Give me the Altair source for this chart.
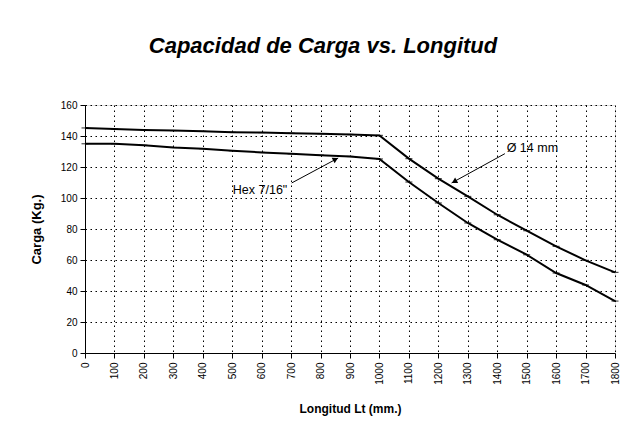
import altair as alt
import pandas as pd

longitud = [0, 100, 200, 300, 400, 500, 600, 700, 800, 900, 1000,
            1100, 1200, 1300, 1400, 1500, 1600, 1700, 1800]
carga_14mm = [145.2, 144.5, 143.8, 143.5, 143.0, 142.4, 142.2, 141.8, 141.5, 141.0, 140.4,
              125.4, 112.5, 101.0, 89.2, 78.9, 68.8, 59.8, 52.0]
carga_hex = [135.0, 135.0, 134.0, 132.6, 131.8, 130.5, 129.4, 128.5, 127.6, 126.8, 125.2,
             110.3, 96.8, 83.9, 73.1, 63.4, 51.6, 43.9, 33.5]
carga_ticks = [0, 20, 40, 60, 80, 100, 120, 140, 160]
series_names = ["Ø 14 mm", "Hex 7/16\""]

# annotations: label position, leader line start, arrowhead position/angle
ann_text = ["Ø 14 mm", "Hex 7/16\""]
ann_tx = [1432, 502]
ann_ty = [132.3, 104.9]
ann_x1 = [1426, 702]
ann_y1 = [128.6, 109.7]
ann_x2 = [1245, 860]
ann_y2 = [109.7, 125.8]
head_x = [1254, 851]
head_y = [110.6, 125.0]
head_angle = [241, 62]

rows = []
for name, vals in zip(series_names, [carga_14mm, carga_hex]):
    for x, y in zip(longitud, vals):
        rows.append({"serie": name, "x": x, "y": y})
df = pd.DataFrame(rows)
ann = pd.DataFrame({"text": ann_text, "tx": ann_tx, "ty": ann_ty,
                    "x1": ann_x1, "y1": ann_y1, "x2": ann_x2, "y2": ann_y2,
                    "hx": head_x, "hy": head_y, "angle": head_angle})

xscale = alt.Scale(domain=[0, 1800], nice=False, zero=False)
yscale = alt.Scale(domain=[0, 160], nice=False)

xaxis = alt.Axis(title="Longitud Lt (mm.)", values=longitud, labelAngle=270, format="d",
                 labelOverlap=False, labelFlush=False, titleFontSize=12,
                 grid=True, gridDash=[1.5, 3.5], gridColor="#000000", gridOpacity=1,
                 domainColor="#000000", tickColor="#000000", tickSize=5,
                 labelPadding=4, titlePadding=19)
yaxis = alt.Axis(title="Carga (Kg.)", values=carga_ticks, format="d",
                 labelOverlap=False, labelFlush=False, titleFontSize=13,
                 grid=True, gridDash=[1.5, 3.5], gridColor="#000000", gridOpacity=1,
                 domainColor="#000000", tickColor="#000000", tickSize=5,
                 labelPadding=3, titlePadding=17)

base = alt.Chart(df)
lines = base.mark_line(color="black", strokeWidth=2).encode(
    x=alt.X("x:Q", scale=xscale, axis=xaxis),
    y=alt.Y("y:Q", scale=yscale, axis=yaxis),
    detail="serie:N",
)
markers = base.mark_tick(color="black", orient="horizontal", size=7, thickness=1.2).encode(
    x=alt.X("x:Q", scale=xscale, axis=xaxis),
    y=alt.Y("y:Q", scale=yscale, axis=yaxis),
)

abase = alt.Chart(ann)
leaders = abase.mark_rule(color="black", strokeWidth=1).encode(
    x=alt.X("x1:Q", scale=xscale, axis=xaxis), y=alt.Y("y1:Q", scale=yscale, axis=yaxis),
    x2="x2:Q", y2="y2:Q")
heads = abase.mark_point(shape="triangle-up", filled=True, color="black",
                         size=40, opacity=1).encode(
    x=alt.X("hx:Q", scale=xscale, axis=xaxis), y=alt.Y("hy:Q", scale=yscale, axis=yaxis),
    angle=alt.Angle("angle:Q", scale=None))
labels = abase.mark_text(align="left", baseline="middle", fontSize=12.5,
                         font="Liberation Sans", color="black").encode(
    x=alt.X("tx:Q", scale=xscale, axis=xaxis), y=alt.Y("ty:Q", scale=yscale, axis=yaxis),
    text="text:N")

chart = alt.layer(lines, markers, leaders, heads, labels).properties(
    width=530, height=248,
    padding={"left": 77, "top": 97, "right": 15, "bottom": 77},
    autosize=alt.AutoSizeParams(type="none"),
    title=alt.Title("Capacidad de Carga vs. Longitud", fontSize=22, font="Liberation Sans",
                    fontWeight="bold", fontStyle="italic", color="black",
                    anchor="middle", dx=-27, offset=42),
).configure_view(stroke="#808080", strokeWidth=1).configure_axis(
    labelFont="Liberation Sans", titleFont="Liberation Sans", labelFontSize=12,
    titleFontWeight="bold", labelColor="black", titleColor="black"
).configure(background="white")

chart.save("out.html", embed_options={"renderer": "svg", "actions": False})
